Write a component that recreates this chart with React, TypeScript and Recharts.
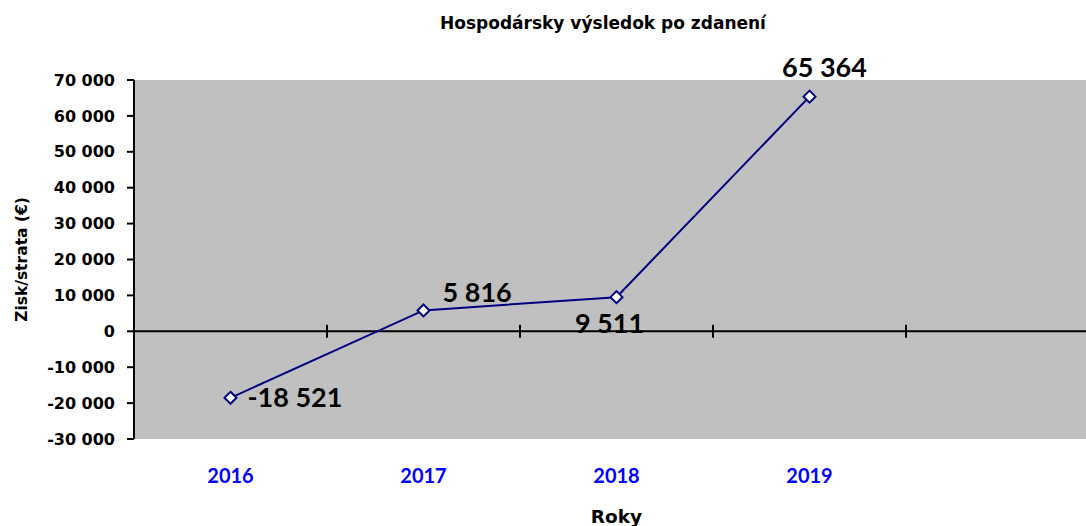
import { LineChart, Line, XAxis, YAxis, CartesianGrid, ReferenceLine, ReferenceDot, LabelList } from "recharts"

// rok -> hospodársky výsledok (€)
const years = ["2016", "2017", "2018", "2019"]
const results = [-18521, 5816, 9511, 65364]
const yTicks = [-30000, -20000, -10000, 0, 10000, 20000, 30000, 40000, 50000, 60000, 70000]

// where Excel put each data label, relative to the point
const labelPlacement = [
  { dx: 17, dy: 9.5, anchor: "start" },
  { dx: 19, dy: -8.5, anchor: "start" },
  { dx: -7, dy: 36, anchor: "middle" },
  { dx: 15, dy: -20, anchor: "middle" },
]

const data = years.map((year, i) => ({ idx: i, year, value: results[i] }))
// category borders on the zero line (one extra empty slot at the right)
const borders = [0.5, 1.5, 2.5, 3.5]

const fmt = (v: number) => String(v).replace(/\B(?=(\d{3})+(?!\d))/g, " ")

const NAVY = "#000080"
const WIDE = "'DejaVu Sans', sans-serif"
const NARROW = "Lato, sans-serif"

const Diamond = (props: any) => {
  const { cx, cy } = props
  if (cx == null || cy == null) return null
  const r = 6
  return (
    <path
      d={`M${cx},${cy - r} L${cx + r},${cy} L${cx},${cy + r} L${cx - r},${cy} Z`}
      fill="#fff"
      stroke={NAVY}
      strokeWidth={2}
    />
  )
}

const BorderTick = (props: any) => {
  const { cx, cy } = props
  return <line x1={cx} x2={cx} y1={cy - 6.5} y2={cy + 6.5} stroke="#000" strokeWidth={2} />
}

const renderLabel = (props: any) => {
  const { x, y, value } = props
  let i = props.index
  if (i == null) i = results.indexOf(value)
  const p = labelPlacement[i] || labelPlacement[0]
  return (
    <text
      x={x + p.dx}
      y={y + p.dy}
      textAnchor={p.anchor}
      fontSize={27}
      fontWeight={700}
      fontFamily={NARROW}
      fill="#000"
    >
      {fmt(value)}
    </text>
  )
}

export default function App() {
  return (
    <div
      style={{
        position: "absolute",
        left: 0,
        top: 0,
        width: 1086,
        height: 526,
        overflow: "hidden",
        background: "#fff",
        fontFamily: NARROW,
      }}
    >
      <div
        style={{
          position: "absolute",
          left: 603,
          top: 13,
          transform: "translateX(-50%)",
          whiteSpace: "nowrap",
          fontFamily: WIDE,
          fontSize: 17,
          fontWeight: 700,
          lineHeight: 1.2,
          color: "#000",
        }}
      >
        Hospodársky výsledok po zdanení
      </div>
      <LineChart width={1100} height={526} data={data} margin={{ top: 80, right: 1, bottom: 27, left: 0 }}>
        <CartesianGrid fill="#C0C0C0" horizontal={false} vertical={false} />
        <XAxis
          dataKey="idx"
          type="number"
          domain={[-0.5, 4.5]}
          ticks={[0, 1, 2, 3]}
          tickFormatter={(i) => years[i] ?? ""}
          axisLine={false}
          tickLine={false}
          tickSize={0}
          tickMargin={30}
          height={60}
          tick={{ fill: "#0000FF", fontSize: 20, fontWeight: 700 }}
          label={{
            value: "Roky",
            position: "bottom",
            offset: 11,
            style: { fontFamily: WIDE, fontSize: 18.5, fontWeight: 700, fill: "#000" },
          }}
        />
        <YAxis
          domain={[-30000, 70000]}
          ticks={yTicks}
          allowDataOverflow
          tickFormatter={fmt}
          width={134}
          axisLine={{ stroke: "#000", strokeWidth: 2 }}
          tickLine={{ stroke: "#000", strokeWidth: 2 }}
          tickSize={7}
          tickMargin={12}
          tick={{ fill: "#000", fontSize: 16, fontWeight: 700, fontFamily: WIDE }}
          label={{
            value: "Zisk/strata (€)",
            angle: -90,
            position: "insideLeft",
            offset: 21,
            style: { textAnchor: "middle", fontFamily: WIDE, fontSize: 15.5, fontWeight: 700, fill: "#000" },
          }}
        />
        <ReferenceLine y={0} stroke="#000" strokeWidth={2} />
        {borders.map((b) => (
          <ReferenceDot key={b} x={b} y={0} shape={BorderTick} />
        ))}
        <Line
          dataKey="value"
          stroke={NAVY}
          strokeWidth={2}
          dot={Diamond}
          activeDot={false}
          isAnimationActive={false}
        >
          <LabelList dataKey="value" content={renderLabel} />
        </Line>
      </LineChart>
    </div>
  )
}
